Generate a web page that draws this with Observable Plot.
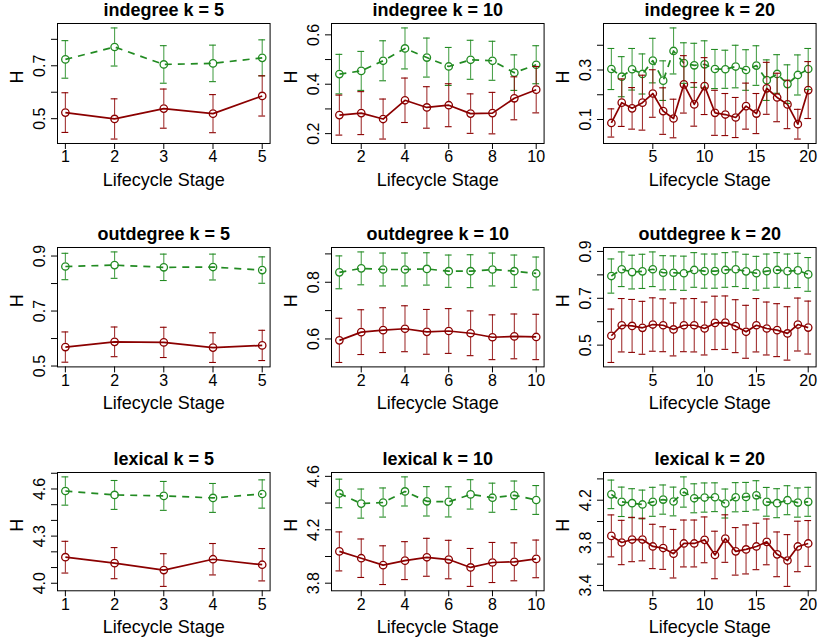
<!DOCTYPE html>
<html><head><meta charset="utf-8">
<script src="https://cdn.jsdelivr.net/npm/d3@7"></script>
<script src="https://cdn.jsdelivr.net/npm/@observablehq/plot@0.6"></script>
<style>
html,body{margin:0;padding:0;background:#fff;}
#chart{position:relative;width:821px;height:641px;overflow:hidden;background:#fff;}
#chart svg{position:absolute;overflow:visible;}
</style></head><body><div id="chart"></div>
<script>
// ---------- data ----------
const panelTitles = ["indegree k = 5","indegree k = 10","indegree k = 20",
  "outdegree k = 5","outdegree k = 10","outdegree k = 20",
  "lexical k = 5","lexical k = 10","lexical k = 20"];
const yAxisLabel = "H";
const xAxisLabel = "Lifecycle Stage";

const stages5 = [1,2,3,4,5];
const stages10 = [1,2,3,4,5,6,7,8,9,10];
const stages20 = [1,2,3,4,5,6,7,8,9,10,11,12,13,14,15,16,17,18,19,20];
const xTicks5 = [1,2,3,4,5];
const xTicks10 = [2,4,6,8,10];
const xTicks20 = [5,10,15,20];

// indegree
const indeg5Green = [0.724,0.771,0.705,0.709,0.730];
const indeg5GreenErr = [0.071,0.072,0.071,0.069,0.068];
const indeg5Red = [0.523,0.499,0.538,0.519,0.586];
const indeg5RedErr = [0.075,0.076,0.074,0.072,0.076];

const indeg10Green = [0.441,0.454,0.495,0.545,0.508,0.472,0.499,0.495,0.447,0.479];
const indeg10GreenErr = [0.080,0.079,0.081,0.083,0.079,0.077,0.079,0.079,0.072,0.077];
const indeg10Red = [0.275,0.283,0.259,0.335,0.306,0.315,0.281,0.283,0.343,0.378];
const indeg10RedErr = [0.081,0.087,0.081,0.090,0.084,0.087,0.080,0.084,0.087,0.094];

const indeg20Green = [0.304,0.273,0.303,0.284,0.338,0.257,0.377,0.328,0.319,0.323,0.304,0.303,0.314,0.300,0.318,0.259,0.284,0.243,0.280,0.304];
const indeg20GreenErr = [0.083,0.081,0.084,0.081,0.090,0.080,0.093,0.082,0.089,0.095,0.079,0.077,0.086,0.082,0.080,0.082,0.078,0.078,0.081,0.083];
const indeg20Red = [0.086,0.168,0.145,0.168,0.205,0.134,0.104,0.242,0.161,0.235,0.127,0.120,0.108,0.154,0.124,0.226,0.189,0.161,0.081,0.219];
const indeg20RedErr = [0.057,0.096,0.084,0.111,0.096,0.094,0.078,0.116,0.088,0.115,0.091,0.085,0.081,0.093,0.081,0.105,0.098,0.098,0.060,0.115];

// outdegree
const outdeg5Green = [0.862,0.867,0.859,0.860,0.849];
const outdeg5GreenErr = [0.048,0.048,0.048,0.047,0.048];
const outdeg5Red = [0.569,0.588,0.586,0.567,0.575];
const outdeg5RedErr = [0.055,0.054,0.055,0.054,0.055];

const outdeg10Green = [0.835,0.849,0.845,0.845,0.847,0.839,0.839,0.845,0.839,0.831];
const outdeg10GreenErr = [0.058,0.058,0.058,0.058,0.057,0.057,0.058,0.058,0.057,0.058];
const outdeg10Red = [0.595,0.624,0.631,0.636,0.625,0.628,0.620,0.606,0.609,0.607];
const outdeg10RedErr = [0.078,0.079,0.079,0.081,0.079,0.079,0.079,0.079,0.079,0.080];

const outdeg20Green = [0.795,0.824,0.812,0.815,0.824,0.809,0.809,0.807,0.821,0.816,0.816,0.821,0.824,0.815,0.807,0.816,0.821,0.816,0.819,0.802];
const outdeg20GreenErr = [0.073,0.074,0.072,0.073,0.074,0.073,0.072,0.073,0.074,0.073,0.073,0.074,0.074,0.073,0.072,0.073,0.074,0.073,0.073,0.072];
const outdeg20Red = [0.540,0.585,0.582,0.574,0.588,0.585,0.567,0.585,0.585,0.571,0.595,0.596,0.581,0.557,0.585,0.571,0.564,0.550,0.588,0.575];
const outdeg20RedErr = [0.114,0.114,0.113,0.113,0.114,0.113,0.113,0.113,0.114,0.113,0.114,0.114,0.113,0.113,0.114,0.113,0.113,0.114,0.113,0.113];

// lexical
const lex5Green = [4.587,4.562,4.556,4.543,4.568];
const lex5GreenErr = [0.090,0.092,0.092,0.092,0.090];
const lex5Red = [4.166,4.128,4.084,4.153,4.118];
const lex5RedErr = [0.101,0.099,0.104,0.100,0.103];

const lex10Green = [4.472,4.396,4.404,4.487,4.413,4.409,4.465,4.440,4.458,4.423];
const lex10GreenErr = [0.107,0.109,0.109,0.109,0.110,0.113,0.110,0.109,0.107,0.108];
const lex10Red = [4.038,3.987,3.935,3.969,3.994,3.977,3.918,3.955,3.960,3.982];
const lex10RedErr = [0.146,0.144,0.145,0.142,0.142,0.144,0.142,0.150,0.142,0.141];

const lex20Green = [4.255,4.185,4.172,4.160,4.185,4.206,4.188,4.277,4.218,4.225,4.228,4.169,4.228,4.231,4.246,4.185,4.172,4.200,4.178,4.185];
const lex20GreenErr = [0.134,0.138,0.136,0.135,0.136,0.137,0.135,0.142,0.136,0.137,0.135,0.136,0.137,0.136,0.137,0.135,0.136,0.136,0.137,0.136];
const lex20Red = [3.865,3.803,3.831,3.831,3.766,3.751,3.698,3.794,3.794,3.828,3.686,3.840,3.720,3.738,3.766,3.809,3.692,3.634,3.766,3.794];
const lex20RedErr = [0.197,0.208,0.208,0.200,0.208,0.200,0.228,0.220,0.220,0.215,0.223,0.223,0.223,0.230,0.218,0.215,0.210,0.243,0.237,0.215];

// y tick values and their printed labels ("" = tick without label)
const yTicksP1 = [0.5,0.6,0.7,0.8],           yLabelsP1 = ["0.5","","0.7",""];
const yTicksP2 = [0.2,0.3,0.4,0.5,0.6],       yLabelsP2 = ["0.2","","0.4","","0.6"];
const yTicksP3 = [0.1,0.2,0.3,0.4],           yLabelsP3 = ["0.1","","0.3",""];
const yTicksP4 = [0.5,0.6,0.7,0.8,0.9],       yLabelsP4 = ["0.5","","0.7","","0.9"];
const yTicksP5 = [0.6,0.7,0.8,0.9],           yLabelsP5 = ["0.6","","0.8",""];
const yTicksP6 = [0.5,0.6,0.7,0.8,0.9],       yLabelsP6 = ["0.5","","0.7","","0.9"];
const yTicksP7 = [4.0,4.1,4.2,4.3,4.4,4.5,4.6,4.7], yLabelsP7 = ["4.0","","","4.3","","","4.6",""];
const yTicksP8 = [3.8,4.0,4.2,4.4,4.6],       yLabelsP8 = ["3.8","","4.2","","4.6"];
const yTicksP9 = [3.4,3.6,3.8,4.0,4.2,4.4],   yLabelsP9 = ["3.4","","3.8","","4.2",""];

// ---------- panels ----------
const panels = [
  {title: panelTitles[0], stages: stages5,  xTicks: xTicks5,  g: indeg5Green,  gE: indeg5GreenErr,  r: indeg5Red,  rE: indeg5RedErr,  yT: yTicksP1, yL: yLabelsP1},
  {title: panelTitles[1], stages: stages10, xTicks: xTicks10, g: indeg10Green, gE: indeg10GreenErr, r: indeg10Red, rE: indeg10RedErr, yT: yTicksP2, yL: yLabelsP2},
  {title: panelTitles[2], stages: stages20, xTicks: xTicks20, g: indeg20Green, gE: indeg20GreenErr, r: indeg20Red, rE: indeg20RedErr, yT: yTicksP3, yL: yLabelsP3},
  {title: panelTitles[3], stages: stages5,  xTicks: xTicks5,  g: outdeg5Green,  gE: outdeg5GreenErr,  r: outdeg5Red,  rE: outdeg5RedErr,  yT: yTicksP4, yL: yLabelsP4},
  {title: panelTitles[4], stages: stages10, xTicks: xTicks10, g: outdeg10Green, gE: outdeg10GreenErr, r: outdeg10Red, rE: outdeg10RedErr, yT: yTicksP5, yL: yLabelsP5},
  {title: panelTitles[5], stages: stages20, xTicks: xTicks20, g: outdeg20Green, gE: outdeg20GreenErr, r: outdeg20Red, rE: outdeg20RedErr, yT: yTicksP6, yL: yLabelsP6},
  {title: panelTitles[6], stages: stages5,  xTicks: xTicks5,  g: lex5Green,  gE: lex5GreenErr,  r: lex5Red,  rE: lex5RedErr,  yT: yTicksP7, yL: yLabelsP7},
  {title: panelTitles[7], stages: stages10, xTicks: xTicks10, g: lex10Green, gE: lex10GreenErr, r: lex10Red, rE: lex10RedErr, yT: yTicksP8, yL: yLabelsP8},
  {title: panelTitles[8], stages: stages20, xTicks: xTicks20, g: lex20Green, gE: lex20GreenErr, r: lex20Red, rE: lex20RedErr, yT: yTicksP9, yL: yLabelsP9}
];

const GREEN = "#228B22", RED = "#8B0000";
const colBoxLeft = [57.3, 330.7, 603.3];
const boxW = 212.6;
const rowBoxTop = [23.3, 247.3, 471.7];
const rowBoxH = [120, 119.4, 118.3];
const ML = 57, MR = 4, MT = 30, MB = 52;
const GAP = 3.8, CAP = 3.4;
const FONT = "'Liberation Sans', Arial, Helvetica, sans-serif";

function seriesMarks(data, color, dash) {
  return [
    Plot.ruleX(data, {x: "stage", y1: "hi", y2: "mean", insetBottom: GAP, stroke: color, strokeWidth: 1.1, strokeOpacity: 0.8}),
    Plot.ruleX(data, {x: "stage", y1: "mean", y2: "lo", insetTop: GAP, stroke: color, strokeWidth: 1.1, strokeOpacity: 0.8}),
    Plot.ruleY(data, {x1: "stage", x2: "stage", y: "hi", insetLeft: -CAP, insetRight: -CAP, stroke: color, strokeWidth: 1.1}),
    Plot.ruleY(data, {x1: "stage", x2: "stage", y: "lo", insetLeft: -CAP, insetRight: -CAP, stroke: color, strokeWidth: 1.1}),
    Plot.line(data, {x: "stage", y: "mean", stroke: color, strokeWidth: 1.7, strokeDasharray: dash, strokeLinecap: "butt"}),
    Plot.dot(data, {x: "stage", y: "mean", r: 3.7, stroke: color, strokeWidth: 1.3, fill: "none"})
  ];
}

const chart = document.getElementById("chart");
panels.forEach((p, k) => {
  const row = Math.floor(k / 3), col = k % 3;
  const green = p.stages.map((s, i) => ({stage: s, mean: p.g[i], lo: p.g[i] - p.gE[i], hi: p.g[i] + p.gE[i]}));
  const red = p.stages.map((s, i) => ({stage: s, mean: p.r[i], lo: p.r[i] - p.rE[i], hi: p.r[i] + p.rE[i]}));
  const all = green.concat(red);
  const lo = d3.min(all, d => d.lo), hi = d3.max(all, d => d.hi);
  const yp = (hi - lo) * 0.04;
  const x0 = d3.min(p.stages), x1 = d3.max(p.stages), xp = (x1 - x0) * 0.04;
  const labelMap = new Map(p.yT.map((t, i) => [t, p.yL[i]]));
  const boxH = rowBoxH[row];
  const svg = Plot.plot({
    width: ML + boxW + MR,
    height: MT + boxH + MB,
    marginLeft: ML, marginRight: MR, marginTop: MT, marginBottom: MB,
    style: {fontFamily: FONT, fontSize: "16px", background: "transparent", color: "black", overflow: "visible"},
    x: {domain: [x0 - xp, x1 + xp]},
    y: {domain: [lo - yp, hi + yp]},
    marks: [
      Plot.axisX(p.xTicks, {tickSize: 6, tickPadding: 1.6, fontSize: 16, label: null, stroke: "black", fill: "black"}),
      Plot.axisY(p.yT, {tickSize: 6, tickPadding: 6.3, tickRotate: -90, fontSize: 16, label: null,
        tickFormat: d => labelMap.get(d), stroke: "black", fill: "black"}),
      ...seriesMarks(green, GREEN, "7,6"),
      ...seriesMarks(red, RED, null),
      Plot.frame({stroke: "black", strokeWidth: 1}),
      Plot.text([p.title], {text: d => d, frameAnchor: "top", dy: -7.3, lineAnchor: "bottom", fontWeight: "bold", fontSize: 18, fill: "black"}),
      Plot.text([yAxisLabel], {text: d => d, frameAnchor: "left", dx: -34.6, rotate: -90, lineAnchor: "bottom", fontSize: 18, fill: "black"}),
      Plot.text([xAxisLabel], {text: d => d, frameAnchor: "bottom", dy: 42.4, lineAnchor: "bottom", fontSize: 18, fill: "black"})
    ]
  });
  svg.style.left = (colBoxLeft[col] - ML) + "px";
  svg.style.top = (rowBoxTop[row] - MT) + "px";
  chart.appendChild(svg);
});
</script></body></html>
